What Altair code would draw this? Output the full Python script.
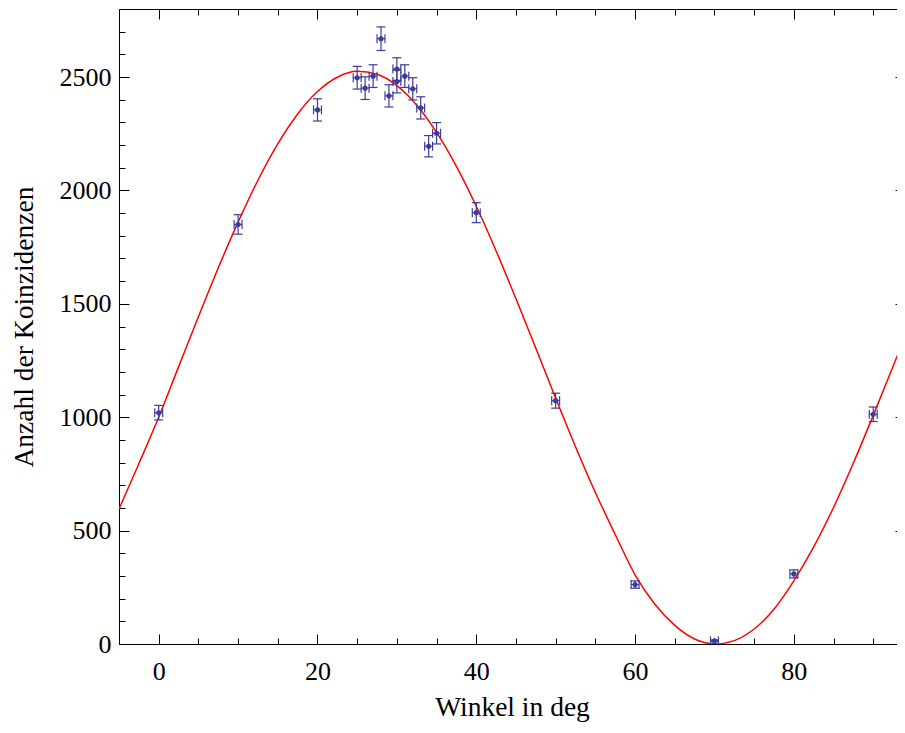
import altair as alt
import pandas as pd

# measured data (angle in deg, coincidence counts, vertical error)
winkel = [0, 10, 20, 25, 26, 27, 28, 29, 30, 30, 31, 32, 33, 34, 35, 40, 50, 60, 70, 80, 90]
anzahl = [1020, 1850, 2355, 2497, 2451, 2504, 2669, 2417, 2535, 2480, 2504, 2448, 2364, 2195, 2252, 1902, 1073, 262, 14, 309, 1013]
fehler = [32, 43, 49, 50, 50, 50, 52, 49, 50, 50, 50, 49, 49, 47, 47, 44, 33, 16, 4, 18, 32]
winkel_fehler = [0.5] * len(winkel)

# fitted curve
kurve_w = [-5, -2.5, 0, 2.5, 5, 7.5, 10, 12.5, 15, 17.5, 20, 22.5, 25, 27.5, 30, 32.5, 35, 37.5,
           40, 42.5, 45, 47.5, 50, 52.5, 55, 57.5, 60, 62.5, 65, 67.5, 70, 72.5, 75, 77.5, 80,
           82.5, 85, 87.5, 90, 92.5, 95]
kurve_n = [595, 795, 1000, 1222, 1443, 1658, 1860, 2045, 2205, 2337, 2436, 2499, 2525, 2512, 2462,
           2376, 2256, 2106, 1930, 1733, 1522, 1304, 1084, 870, 668, 483, 305, 175, 82, 22, 0, 15,
           66, 153, 278, 428, 602, 798, 1008, 1225, 1443]

x_major = [0, 20, 40, 60, 80]
x_all = [-5, 0, 5, 10, 15, 20, 25, 30, 35, 40, 45, 50, 55, 60, 65, 70, 75, 80, 85, 90]
y_major = [0, 500, 1000, 1500, 2000, 2500]
y_all = list(range(0, 2801, 100))

W, H = 786, 635
FONT = "Liberation Serif"
PT = "#3d3d99"

kurve = pd.DataFrame({"w": kurve_w, "n": kurve_n})
pts = pd.DataFrame({"w": winkel, "n": anzahl, "err": fehler, "werr": winkel_fehler})

xs = alt.Scale(domain=[-5, 94], nice=False, zero=False)
ys = alt.Scale(domain=[0, 2800], nice=False, zero=False)

x_tick_size = {"condition": {"test": "datum.value % 20 === 0", "value": 10}, "value": 6}
y_tick_size = {"condition": {"test": "datum.value % 500 === 0", "value": 10}, "value": 6}

ax_main_x = alt.Axis(orient="bottom", values=x_major, ticks=False, domain=False, grid=False,
                     labelFont=FONT, labelFontSize=26, labelColor="black", labelPadding=14,
                     title="Winkel in deg", titleFont=FONT, titleFontSize=27.5,
                     titleFontWeight="normal", titleColor="black", titlePadding=9, format="d")
ax_main_y = alt.Axis(orient="left", values=y_major, ticks=False, domain=False, grid=False,
                     labelFont=FONT, labelFontSize=26, labelColor="black", labelPadding=8,
                     title="Anzahl der Koinzidenzen", titleFont=FONT, titleFontSize=27.5,
                     titleFontWeight="normal", titleColor="black", titlePadding=21, format="d")

def tick_axis(orient, offset, values, size):
    return alt.Axis(orient=orient, offset=offset, values=values, tickSize=size, tickColor="black",
                    tickWidth=1, labels=False, domain=False, grid=False, title=None)

line = alt.Chart(kurve).mark_line(color="#ff0000", strokeWidth=1.5, interpolate="monotone", clip=True).encode(
    x=alt.X("w:Q", scale=xs, axis=ax_main_x),
    y=alt.Y("n:Q", scale=ys, axis=ax_main_y),
)

base = alt.Chart(pts).transform_calculate(
    lo="datum.n - datum.err", hi="datum.n + datum.err",
    wlo="datum.w - datum.werr", whi="datum.w + datum.werr",
)

vbar = base.mark_rule(color=PT, strokeWidth=1.2).encode(
    x=alt.X("w:Q", scale=xs, axis=tick_axis("top", -H, x_all, x_tick_size)),
    y=alt.Y("lo:Q", scale=ys, axis=tick_axis("right", -W, y_all, y_tick_size)),
    y2="hi:Q",
)
hbar = base.mark_rule(color=PT, strokeWidth=1.2).encode(
    x=alt.X("wlo:Q", scale=xs, axis=tick_axis("bottom", -H, x_all, x_tick_size)),
    x2="whi:Q",
    y=alt.Y("n:Q", scale=ys, axis=tick_axis("left", -W, y_all, y_tick_size)),
)
vcaps = base.transform_fold(["lo", "hi"], as_=["k", "yv"]).mark_tick(
    color=PT, orient="horizontal", size=9, thickness=1.2, opacity=1).encode(
    x=alt.X("w:Q", scale=xs, axis=None),
    y=alt.Y("yv:Q", scale=ys, axis=None),
)
hcaps = base.transform_fold(["wlo", "whi"], as_=["k", "xv"]).mark_tick(
    color=PT, orient="vertical", size=9, thickness=1.2, opacity=1).encode(
    x=alt.X("xv:Q", scale=xs, axis=None),
    y=alt.Y("n:Q", scale=ys, axis=None),
)
dots = base.mark_circle(color=PT, size=26, opacity=1).encode(
    x=alt.X("w:Q", scale=xs, axis=None),
    y=alt.Y("n:Q", scale=ys, axis=None),
)

chart = alt.layer(line, vbar, hbar, vcaps, hcaps, dots).resolve_axis(
    x="independent", y="independent"
).properties(
    width=W, height=H,
    autosize=alt.AutoSizeParams(type="none"),
    padding={"left": 111, "top": 1, "right": -8, "bottom": 78},
    background="white",
).configure_view(stroke="black", strokeWidth=1)

chart.save("out.html", embed_options={"renderer": "svg", "actions": False})
